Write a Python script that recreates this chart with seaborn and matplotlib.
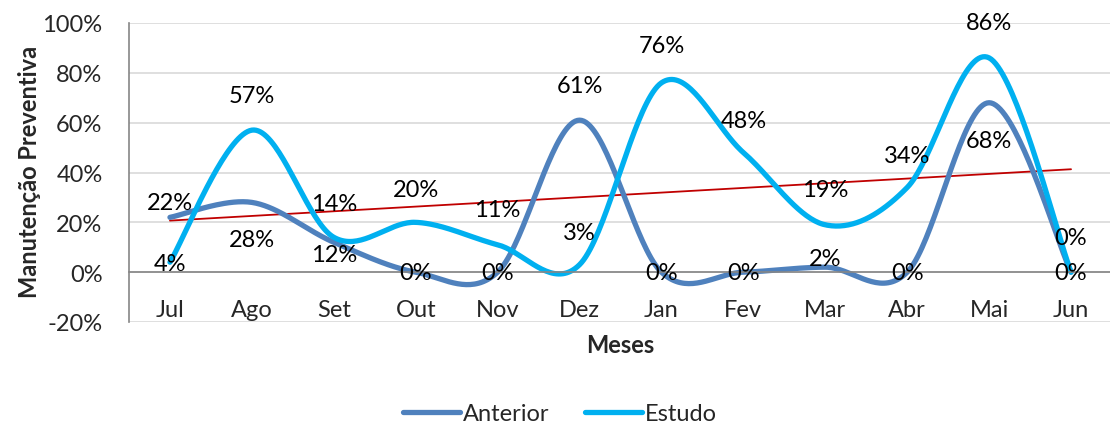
import numpy as np
import pandas as pd
import matplotlib
matplotlib.use("Agg")
import matplotlib.pyplot as plt
import seaborn as sns

# data
meses = ["Jul", "Ago", "Set", "Out", "Nov", "Dez", "Jan", "Fev", "Mar", "Abr", "Mai", "Jun"]
anterior = [22, 28, 12, 0, 0, 61, 0, 0, 2, 0, 68, 0]
estudo = [4, 57, 14, 20, 11, 3, 76, 48, 19, 34, 86, 0]

# label offsets (percentage points above/below the point)
off_anterior = [6, -15, -5, 0, 0, 14, 0, 0, 3.5, 0, -15, 0]
off_estudo = [-0.5, 14, 13.5, 13, 14, 13, 15, 13, 14, 13, 14, 14]

C_ANT = "#4F81BD"
C_EST = "#00B0F0"
C_TREND = "#C00000"
FS = 17


def smooth(y, n=40):
    # Excel-like smoothed line (Catmull-Rom as cubic bezier)
    x = np.arange(len(y), dtype=float)
    y = np.asarray(y, dtype=float)
    pts = np.column_stack([x, y])
    out = []
    for i in range(len(pts) - 1):
        p0 = pts[i - 1] if i > 0 else pts[i]
        p1, p2 = pts[i], pts[i + 1]
        p3 = pts[i + 2] if i + 2 < len(pts) else pts[i + 1]
        c1 = p1 + (p2 - p0) / 6
        c2 = p2 - (p3 - p1) / 6
        t = np.linspace(0, 1, n)[:, None]
        seg = ((1 - t) ** 3) * p1 + 3 * ((1 - t) ** 2) * t * c1 + 3 * (1 - t) * t ** 2 * c2 + t ** 3 * p2
        out.append(seg if i == 0 else seg[1:])
    return np.vstack(out)


sns.set_style("white")
plt.rcParams["font.family"] = ["Lato", "DejaVu Sans"]

fig = plt.figure(figsize=(11.1, 4.27), dpi=100)
ax = fig.add_axes([129 / 1110, 1 - 323 / 427, 983 / 1110, 299 / 427])

for vals, col, name in [(anterior, C_ANT, "Anterior"), (estudo, C_EST, "Estudo")]:
    s = smooth(vals)
    df = pd.DataFrame({"x": s[:, 0], "y": s[:, 1]})
    sns.lineplot(data=df, x="x", y="y", ax=ax, color=col, lw=3.8, sort=False,
                 estimator=None, label=name, solid_capstyle="round", legend=False)

# linear trend of Estudo
xi = np.arange(len(estudo))
k, b = np.polyfit(xi, estudo, 1)
ax.plot(xi, k * xi + b, color=C_TREND, lw=1.3, zorder=1)

# data labels
for i in range(len(meses)):
    ax.text(i, anterior[i] + off_anterior[i], f"{anterior[i]}%", ha="center", va="center", fontsize=FS, color="black")
    ax.text(i, estudo[i] + off_estudo[i], f"{estudo[i]}%", ha="center", va="center", fontsize=FS, color="black")

# axis at zero first (this resets ticks)
ax.spines["bottom"].set_position(("data", 0))
ax.spines["bottom"].set_color("#868686")
ax.spines["bottom"].set_linewidth(1.2)

ax.set_xlim(-0.5, len(meses) - 0.5)
ax.set_ylim(-20, 100)
ax.set_yticks(range(-20, 101, 20))
ax.set_yticklabels([f"{v}%" for v in range(-20, 101, 20)])
ax.set_xticks(range(len(meses)))
ax.set_xticklabels(meses)
ax.set_xlabel("")
ax.set_ylabel("")

ax.grid(axis="y", color="#D9D9D9", lw=1.2)
ax.set_axisbelow(True)
for sp in ["top", "right"]:
    ax.spines[sp].set_visible(False)
ax.spines["left"].set_color("#868686")
ax.spines["left"].set_linewidth(1.2)
ax.tick_params(axis="y", length=6, color="#868686", direction="out", pad=13, labelsize=FS)
ax.tick_params(axis="x", length=0, pad=19, labelsize=FS)

fig.text(30 / 1110, 1 - 172 / 427, "Manutenção Preventiva", rotation=90, ha="center", va="center",
         fontsize=FS, fontweight="bold")
fig.text(620 / 1110, 1 - 346 / 427, "Meses", ha="center", va="center", fontsize=FS, fontweight="bold")

handles = [plt.Line2D([], [], color=C_ANT, lw=3.8, solid_capstyle="round"),
           plt.Line2D([], [], color=C_EST, lw=3.8, solid_capstyle="round")]
fig.legend(handles, ["Anterior", "Estudo"], loc="center", bbox_to_anchor=(560 / 1110, 1 - 415 / 427),
           ncol=2, frameon=False, fontsize=FS, handlelength=2.4, handletextpad=0.15, columnspacing=1.5)

plt.savefig("out.png", dpi=100)
plt.close()
